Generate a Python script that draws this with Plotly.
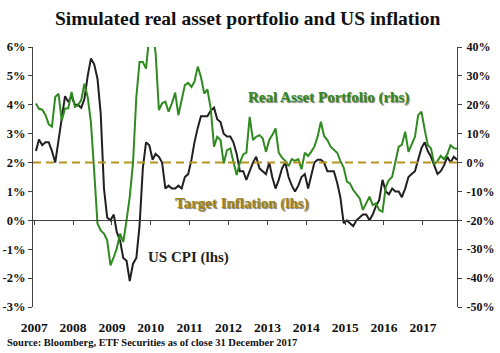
import plotly.graph_objects as go
import pandas as pd

# ---------------- data ----------------
# monthly, Feb 2007 .. Dec 2017
dates = pd.date_range("2007-02-01", "2017-12-01", freq="MS").strftime("%Y-%m-%d").tolist()

us_cpi = [
    2.4, 2.8, 2.6, 2.7, 2.7, 2.4, 2.0, 2.8, 3.5, 4.3, 4.1,            # 2007
    4.3, 4.0, 4.0, 3.9, 4.2, 5.0, 5.6, 5.4, 4.9, 3.7, 1.1, 0.1,       # 2008
    0.0, 0.2, -0.4, -0.7, -1.3, -1.4, -2.1, -1.5, -1.3, -0.2, 1.8, 2.7,  # 2009
    2.6, 2.1, 2.3, 2.2, 2.0, 1.1, 1.2, 1.1, 1.1, 1.2, 1.1, 1.5,       # 2010
    1.6, 2.1, 2.7, 3.2, 3.6, 3.6, 3.6, 3.8, 3.9, 3.5, 3.4, 3.0,       # 2011
    2.9, 2.9, 2.7, 2.3, 1.7, 1.7, 1.4, 1.7, 2.0, 2.2, 1.8, 1.7,       # 2012
    1.6, 2.0, 1.5, 1.1, 1.4, 1.8, 2.0, 1.5, 1.2, 1.0, 1.2, 1.5,       # 2013
    1.6, 1.1, 1.5, 2.0, 2.1, 2.1, 2.0, 1.7, 1.7, 1.7, 1.3, 0.8,       # 2014
    -0.1, 0.0, -0.1, -0.2, 0.0, 0.1, 0.2, 0.2, 0.0, 0.2, 0.5, 0.7,    # 2015
    1.4, 1.0, 0.9, 1.1, 1.0, 1.0, 0.8, 1.1, 1.5, 1.6, 1.7, 2.1,       # 2016
    2.5, 2.7, 2.4, 2.2, 1.9, 1.6, 1.7, 1.9, 2.2, 2.0, 2.2, 2.1,       # 2017
]

real_asset_portfolio = [
    20.4, 18.6, 18.3, 16.5, 13.2, 12.4, 22.7, 23.8, 14.6, 18.7, 18.8,             # 2007
    24.4, 19.3, 19.8, 21.6, 27.3, 22.7, 14.0, -3.0, -21.1, -23.5, -24.6, -26.9,   # 2008
    -35.6, -32.7, -29.8, -24.6, -27.5, -20.0, -11.9, 0.0, 22.7, 34.8, 34.8, 32.5, # 2009
    44.0, 45.0, 38.0, 18.2, 20.5, 21.1, 17.6, 20.5, 24.2, 16.4, 21.7, 26.8,       # 2010
    27.6, 26.2, 28.0, 33.2, 29.6, 23.9, 25.3, 18.7, 5.5, 8.9, 7.8, -0.3,          # 2011
    4.3, 4.9, 0.3, -4.3, 0.0, 2.8, 3.4, 15.8, 7.8, 8.9, 9.5, 8.4,                 # 2012
    3.7, 7.8, 9.5, 11.8, 3.4, 1.7, 0.6, -1.2, 1.2, 0.6, 1.2, -2.3,                # 2013
    3.4, 2.3, 3.7, 5.5, 8.9, 14.1, 9.2, 7.8, 5.5, 4.3, 3.4, 0.6,                  # 2014
    -1.7, -6.6, -7.2, -9.5, -11.0, -12.4, -16.4, -14.1, -11.8, -14.7, -14.1, -16.4,  # 2015
    -17.0, -8.4, -6.1, -4.9, 0.0, 5.5, 6.1, 10.7, 3.7, 6.6, 8.9, 16.4,            # 2016
    17.6, 11.3, 6.1, 4.9, -0.6, 0.6, 2.3, 1.2, 2.9, 6.0, 5.0, 4.8,                # 2017
]

target_inflation = 2.0

year_labels = ["2007", "2008", "2009", "2010", "2011", "2012",
               "2013", "2014", "2015", "2016", "2017"]
left_ticks = [-3, -2, -1, 0, 1, 2, 3, 4, 5, 6]
right_ticks = [-50, -40, -30, -20, -10, 0, 10, 20, 30, 40]

# ---------------- style ----------------
SERIF = "Liberation Serif"
GREEN = "#2F8A1F"
BLACK = "#231F20"
GOLD = "#B4961E"
AXIS = "#404040"

year_pos = [f"{y}-01-15" for y in year_labels]

fig = go.Figure()

fig.add_trace(go.Scatter(x=dates, y=us_cpi, mode="lines", name="US CPI (lhs)",
                         line=dict(color=BLACK, width=2), yaxis="y", xaxis="x"))
fig.add_trace(go.Scatter(x=dates, y=real_asset_portfolio, mode="lines",
                         name="Real Asset Portfolio (rhs)",
                         line=dict(color=GREEN, width=2), yaxis="y2", xaxis="x"))
# invisible helper trace so the zero-crossing x axis is rendered
fig.add_trace(go.Scatter(x=dates, y=[target_inflation] * len(dates), mode="lines",
                         line=dict(color="rgba(0,0,0,0)", width=0),
                         xaxis="x2", yaxis="y", hoverinfo="skip", showlegend=False))

fig.add_hline(y=target_inflation, line=dict(color=GOLD, width=2, dash="8px,5px"),
              layer="above")

x_range = ["2007-01-04", "2017-12-01"]
tickfont = dict(family=SERIF, size=12.5, color="#111", weight="bold")

fig.update_layout(
    template="none",
    width=500, height=353,
    margin=dict(l=33, r=43, t=47, b=46, autoexpand=False),
    paper_bgcolor="white", plot_bgcolor="white",
    showlegend=False,
    font=dict(family=SERIF, size=13, color="#111"),
    xaxis=dict(type="date", range=x_range, tickvals=year_pos, ticktext=year_labels,
               automargin=False, showgrid=False, zeroline=False, showline=False,
               ticks="", ticklabelstandoff=10,
               tickfont=dict(family=SERIF, size=13.5, color="#111", weight="bold")),
    xaxis2=dict(type="date", range=x_range, overlaying="x", matches="x",
                anchor="free", position=0.3346, automargin=False,
                tickvals=year_pos, showticklabels=False,
                showgrid=False, zeroline=False, showline=True,
                linecolor=AXIS, linewidth=1, ticks="outside", ticklen=4,
                tickcolor=AXIS),
    yaxis=dict(range=[-3, 6], tickvals=left_ticks,
               ticktext=[f"{v}%" for v in left_ticks], automargin=False,
               showgrid=False, zeroline=False, showline=True, linecolor=AXIS,
               linewidth=1, ticks="outside", ticklen=4, tickcolor=AXIS,
               ticklabelstandoff=0, tickfont=tickfont),
    yaxis2=dict(range=[-50, 40], tickvals=right_ticks,
                ticktext=[f"{v}%" for v in right_ticks], automargin=False,
                overlaying="y", side="right", anchor="x",
                showgrid=False, zeroline=False, showline=True, linecolor=AXIS,
                linewidth=1, ticks="outside", ticklen=4, tickcolor=AXIS,
                ticklabelstandoff=2,
                tickfont=dict(family=SERIF, size=12, color="#111", weight="bold")),
)

fig.add_annotation(text="Simulated real asset portfolio and US inflation",
                   xref="paper", yref="paper", x=0.506, y=1.11,
                   xanchor="center", yanchor="middle", showarrow=False,
                   font=dict(family=SERIF, size=19.5, color="#111", weight="bold"))

shadow = "1px 1px 1px rgba(0,0,0,0.55)"
fig.add_annotation(text="Real Asset Portfolio (rhs)", xref="paper", yref="paper",
                   x=0.696, y=0.804, xanchor="center", yanchor="middle",
                   showarrow=False,
                   font=dict(family=SERIF, size=15, color=GREEN, weight="bold",
                             shadow=shadow))
fig.add_annotation(text="Target Inflation (lhs)", xref="paper", yref="paper",
                   x=0.493, y=0.40, xanchor="center", yanchor="middle",
                   showarrow=False,
                   font=dict(family=SERIF, size=15, color="#9C8412", weight="bold",
                             shadow=shadow))
fig.add_annotation(text="US CPI (lhs)", xref="paper", yref="paper",
                   x=0.366, y=0.192, xanchor="center", yanchor="middle",
                   showarrow=False,
                   font=dict(family=SERIF, size=15, color=BLACK, weight="bold"))
fig.add_annotation(text="Source: Bloomberg, ETF Securities as of close 31 December 2017",
                   xref="paper", yref="paper", x=-0.066, y=-0.138,
                   xanchor="left", yanchor="middle", showarrow=False,
                   font=dict(family=SERIF, size=10.5, color="#111", weight="bold"))

fig.write_html("out.html")
